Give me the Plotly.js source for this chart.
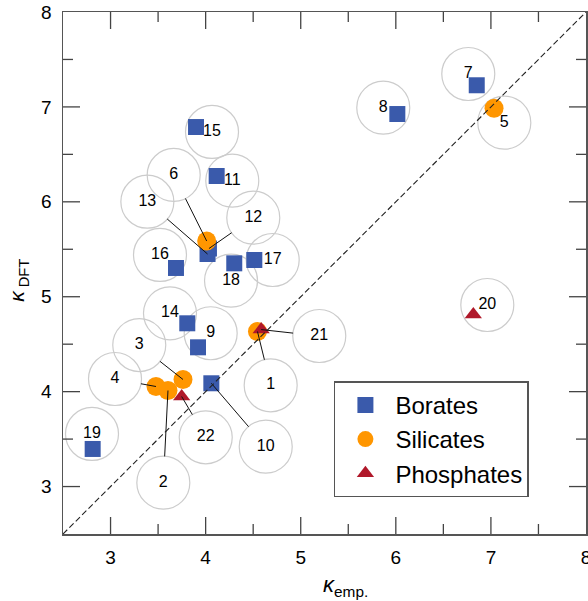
<!DOCTYPE html>
<html><head><meta charset="utf-8">
<script src="https://cdn.plot.ly/plotly-3.0.1.min.js"></script>
<style>html,body{margin:0;padding:0;background:#fff}</style>
</head><body><div id="chart" style="width:588px;height:601px"></div>
<script>
// Data
const borateIds = [7, 8, 9, 10, 11, 12, 13, 14, 15, 16, 17, 18, 19];
const borateX = [6.851, 6.016, 3.920, 4.060, 4.116, 4.035, 4.020, 3.807, 3.899, 3.688, 4.512, 4.301, 2.812];
const borateY = [7.228, 6.925, 4.467, 4.088, 6.272, 5.508, 5.450, 4.720, 6.788, 5.303, 5.387, 5.352, 3.396];

const silicateIds = [1, 2, 3, 4, 5, 6];
const silicateX = [4.545, 3.604, 3.762, 3.478, 7.033, 4.011];
const silicateY = [4.634, 4.012, 4.128, 4.054, 6.985, 5.587];

const phosphateIds = [20, 21, 22];
const phosphateX = [6.815, 4.584, 3.748];
const phosphateY = [4.813, 4.654, 3.949];

// label bubble positions
const labelIds = [1, 2, 3, 4, 5, 6, 7, 8, 9, 10, 11, 12, 13, 14, 15, 16, 17, 18, 19, 20, 21, 22];
const labelX = [4.684, 3.555, 3.302, 3.047, 7.141, 3.664, 6.762, 5.868, 4.053, 4.632, 4.280, 4.501, 3.387, 3.625, 4.067, 3.520, 4.705, 4.267, 2.805, 6.962, 5.195, 4.001];
const labelY = [4.067, 3.041, 4.491, 4.133, 6.834, 6.283, 7.347, 6.992, 4.615, 3.420, 6.223, 5.833, 6.001, 4.825, 6.736, 5.440, 5.387, 5.169, 3.554, 4.913, 4.586, 3.519];
const leaderIds = [1, 2, 3, 4, 6, 10, 12, 13, 21, 22];

const diagX = [2.5, 8];
const diagY = [2.5, 8];

const xTickVals = [3, 4, 5, 6, 7, 8];
const yTickVals = [3, 4, 5, 6, 7, 8];
const xMinorVals = [3.5, 4.5, 5.5, 6.5, 7.5];
const yMinorVals = [3.5, 4.5, 5.5, 6.5, 7.5];

// lookup of point positions
const pts = {};
borateIds.forEach((id, i) => pts[id] = [borateX[i], borateY[i]]);
silicateIds.forEach((id, i) => pts[id] = [silicateX[i], silicateY[i]]);
phosphateIds.forEach((id, i) => pts[id] = [phosphateX[i], phosphateY[i]]);

const bubbleR = 0.277; // bubble radius in data units
const lx = [], ly = [];
leaderIds.forEach(id => {
  const k = labelIds.indexOf(id);
  const cx = labelX[k], cy = labelY[k];
  const [px, py] = pts[id];
  const dx = px - cx, dy = py - cy;
  const d = Math.hypot(dx, dy);
  lx.push(cx + bubbleR * dx / d, px, null);
  ly.push(cy + bubbleR * dy / d, py, null);
});

const font = 'Liberation Sans, Arial, Helvetica, sans-serif';

const traces = [
  {
    x: labelX, y: labelY, text: labelIds.map(String),
    mode: 'markers+text', type: 'scatter', showlegend: false, hoverinfo: 'skip',
    marker: {symbol: 'circle', size: 53, color: 'rgba(255,255,255,0)', line: {color: '#cccccc', width: 1.2}},
    textposition: 'middle center', textfont: {family: font, size: 16, color: '#000'}
  },
  {
    x: borateX, y: borateY, name: 'Borates', mode: 'markers', type: 'scatter',
    marker: {symbol: 'square', size: 16, color: '#3a5aab'}
  },
  {
    x: silicateX, y: silicateY, name: 'Silicates', mode: 'markers', type: 'scatter',
    marker: {symbol: 'circle', size: 19, color: '#ff9600'}
  },
  {
    x: phosphateX, y: phosphateY, name: 'Phosphates', mode: 'markers', type: 'scatter',
    marker: {symbol: 'triangle-up', size: 15, color: '#b0182a'}
  },
  {
    x: lx, y: ly, mode: 'lines', type: 'scatter', showlegend: false, hoverinfo: 'skip',
    line: {color: '#111', width: 1}
  },
  {
    x: diagX, y: diagY, mode: 'lines', type: 'scatter', showlegend: false, hoverinfo: 'skip',
    line: {color: '#222', width: 1.1, dash: '6px,3px'}
  }
];

// inward tick marks on all four sides, placed through the axes' scales
const tickColor = '#444';
const shapes = [];
function addXTick(v, len) {
  shapes.push({type: 'line', xref: 'x', yref: 'paper', x0: v, x1: v, ysizemode: 'pixel', yanchor: 0, y0: 0, y1: len,
               line: {color: tickColor, width: 1.3}, layer: 'above'});
  shapes.push({type: 'line', xref: 'x', yref: 'paper', x0: v, x1: v, ysizemode: 'pixel', yanchor: 1, y0: 0, y1: -len,
               line: {color: tickColor, width: 1.3}, layer: 'above'});
}
function addYTick(v, len) {
  shapes.push({type: 'line', xref: 'paper', yref: 'y', y0: v, y1: v, xsizemode: 'pixel', xanchor: 0, x0: 0, x1: len,
               line: {color: tickColor, width: 1.3}, layer: 'above'});
  shapes.push({type: 'line', xref: 'paper', yref: 'y', y0: v, y1: v, xsizemode: 'pixel', xanchor: 1, x0: 0, x1: -len,
               line: {color: tickColor, width: 1.3}, layer: 'above'});
}
xTickVals.filter(v => v < 8).forEach(v => addXTick(v, 17));
xMinorVals.forEach(v => addXTick(v, 10));
yTickVals.filter(v => v < 8).forEach(v => addYTick(v, 17));
yMinorVals.forEach(v => addYTick(v, 10));

const axisCommon = {
  range: [2.5, 8], autorange: false, showgrid: false, zeroline: false,
  showline: true, linecolor: '#555', linewidth: 1.5, mirror: true,
  ticks: '', ticklabeloverflow: 'allow', ticklabelstandoff: 6,
  tickfont: {family: font, size: 19, color: '#000'}
};

const layout = {
  width: 588, height: 601,
  margin: {l: 63, r: 2, t: 12, b: 67},
  paper_bgcolor: '#fff', plot_bgcolor: '#fff',
  font: {family: font, color: '#000'},
  xaxis: Object.assign({}, axisCommon, {tickmode: 'array', tickvals: xTickVals, ticktext: xTickVals.map(String)}),
  yaxis: Object.assign({}, axisCommon, {tickmode: 'array', tickvals: yTickVals, ticktext: yTickVals.map(String)}),
  showlegend: true,
  legend: {
    x: 0.518, y: 0.2925, xanchor: 'left', yanchor: 'top',
    bordercolor: '#555', borderwidth: 1.5, bgcolor: '#fff',
    itemwidth: 50,
    font: {family: font, size: 24, color: '#000'}
  },
  shapes: shapes,
  annotations: [
    {text: '<i>κ</i><sub>emp.</sub>', xref: 'paper', yref: 'paper', x: 0.540, y: -0.10,
     xanchor: 'center', yanchor: 'middle', showarrow: false, font: {family: font, size: 22, color: '#000'}},
    {text: '<i>κ</i><sub> DFT</sub>', xref: 'paper', yref: 'paper', x: -0.086, y: 0.485,
     xanchor: 'center', yanchor: 'middle', textangle: -90, showarrow: false, font: {family: font, size: 21, color: '#000'}}
  ]
};

Plotly.newPlot('chart', traces, layout, {displayModeBar: false, staticPlot: true});
</script></body></html>
